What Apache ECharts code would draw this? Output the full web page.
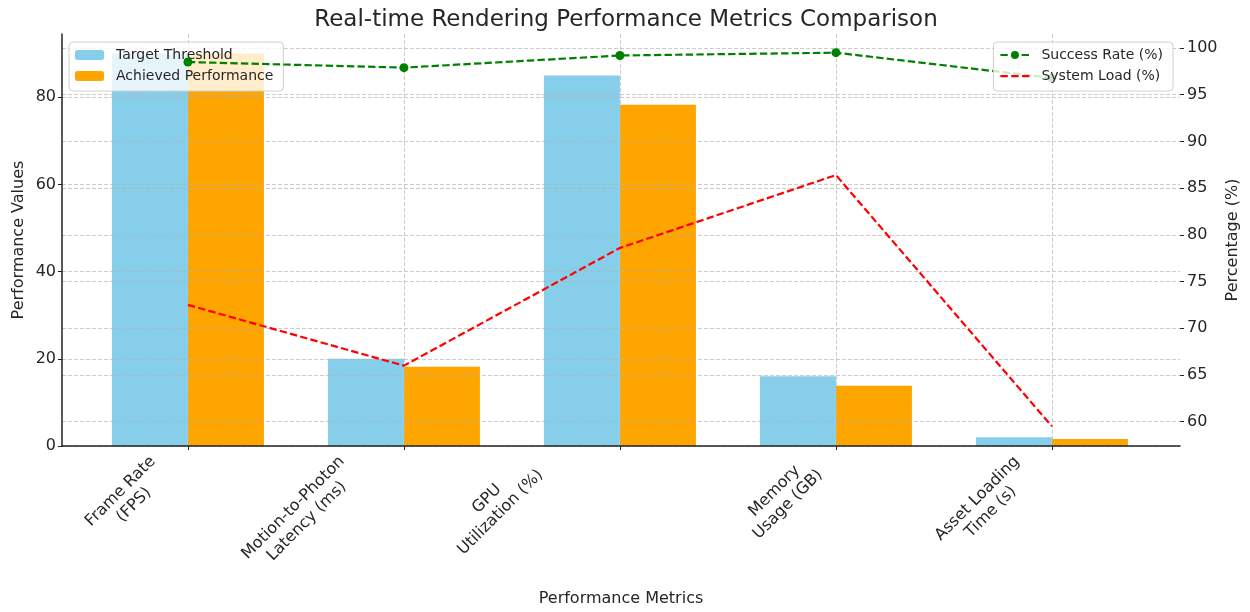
<!DOCTYPE html>
<html>
<head>
<meta charset="utf-8">
<script src="https://cdn.jsdelivr.net/npm/echarts@6/dist/echarts.min.js"></script>
<style>
  html, body { margin: 0; padding: 0; background: #ffffff; }
  #chart { width: 1250px; height: 612px; }
</style>
</head>
<body>
<div id="chart"></div>
<script>
// Categories and values
const metrics = [
  'Frame Rate\n(FPS)',
  'Motion-to-Photon\nLatency (ms)',
  'GPU\nUtilization (%)',
  'Memory\nUsage (GB)',
  'Asset Loading\nTime (s)'
];
const targetThreshold = [90, 20, 85, 16, 2];
const achievedPerformance = [90, 18.2, 78.3, 13.8, 1.6];
const successRate = [98.5, 97.9, 99.2, 99.5, 96.8];
const systemLoad = [72.5, 66.0, 78.6, 86.4, 59.5];

// Tick values
const categoryTicks = [0, 1, 2, 3, 4];
const leftTicks = [0, 20, 40, 60, 80];
const rightTicks = [60, 65, 70, 75, 80, 85, 90, 95, 100];

const FONT = 'DejaVu Sans';
const TEXT = '#262626';
const GRID = { color: 'rgba(176,176,176,0.65)', type: [4, 2], width: 1 };

const pairs = arr => arr.map((v, i) => [i, v]);

// Per-label spacing (px) used to slide each rotated category label sideways
const labelNudge = [11, 30, 52, 7, 11];
const labelRich = { c: { align: 'center', fontFamily: FONT, fontSize: 16, color: TEXT, lineHeight: 19 } };
labelNudge.forEach((p, i) => {
  labelRich['r' + i] = { width: p, align: 'right', fontSize: 16, lineHeight: 19 };
  labelRich['h' + i] = { height: 2 * p, lineHeight: 2 * p, fontSize: 1 };
});

// Dashed-line legend glyph (three dashes in a 29x10 box)
const dashIcon = 'path://M0,4h7.4v2.2h-7.4z M10.8,4h7.4v2.2h-7.4z M21.6,4h7.4v2.2h-7.4z M0,0h0.01v0.01h-0.01z M29,10h-0.01v-0.01h0.01z';

const chart = echarts.init(document.getElementById('chart'), null, { renderer: 'canvas' });

const legendBox = {
  orient: 'vertical',
  top: 42,
  zlevel: 1,
  itemWidth: 29,
  itemHeight: 10,
  itemGap: 7,
  padding: [6, 10, 8, 6],
  backgroundColor: 'rgba(255,255,255,0.8)',
  borderColor: '#d0d0d0',
  borderWidth: 1,
  borderRadius: 4,
  textStyle: { fontFamily: FONT, fontSize: 14, color: TEXT, padding: [0, 0, 0, 7] }
};

// Axes sit on the upper layer so their grid lines show over the bars
const axisLayer = { zlevel: 1, z: 3 };

chart.setOption({
  backgroundColor: '#ffffff',
  animation: false,
  textStyle: { fontFamily: FONT },
  title: {
    text: 'Real-time Rendering Performance Metrics Comparison',
    left: 621,
    textAlign: 'center',
    top: 4,
    textStyle: { fontFamily: FONT, fontSize: 23, fontWeight: 'normal', color: TEXT }
  },
  grid: { left: 62, right: 70, top: 34, bottom: 166, containLabel: false, outerBoundsMode: 'none' },
  legend: [
    Object.assign({}, legendBox, {
      z: 4,
      left: 69,
      data: ['Target Threshold', 'Achieved Performance']
    }),
    Object.assign({}, legendBox, {
      z: 8,
      right: 77,
      data: ['Success Rate (%)', { name: 'System Load (%)', icon: dashIcon }]
    })
  ],
  xAxis: Object.assign({
    type: 'value',
    min: -0.583,
    max: 4.593,
    name: 'Performance Metrics',
    nameLocation: 'middle',
    nameGap: 145,
    nameMoveOverlap: false,
    nameTextStyle: { fontFamily: FONT, fontSize: 16, color: TEXT },
    axisLine: { show: true, onZero: false, lineStyle: { color: '#222', width: 1.5 } },
    axisTick: { show: true, customValues: categoryTicks, length: 4, inside: false, lineStyle: { color: '#222' } },
    axisLabel: {
      customValues: categoryTicks,
      rotate: 45,
      margin: 7,
      padding: [0, 18, 0, 0],
      fontFamily: FONT,
      fontSize: 16,
      color: TEXT,
      formatter: v => metrics[v].split('\n').map(l => '{c|' + l + '}{r' + v + '| }').join('\n') + '\n{h' + v + '| }',
      rich: labelRich
    },
    splitLine: { show: true, lineStyle: GRID }
  }, axisLayer),
  yAxis: [
    Object.assign({
      type: 'value',
      min: 0,
      max: 94.5,
      position: 'left',
      name: 'Performance Values',
      nameLocation: 'middle',
      nameRotate: 90,
      nameGap: 35,
      nameMoveOverlap: false,
      nameTextStyle: { fontFamily: FONT, fontSize: 16, color: TEXT },
      axisLine: { show: true, onZero: false, lineStyle: { color: '#222', width: 1.5 } },
      axisTick: { show: true, customValues: leftTicks, length: 4, lineStyle: { color: '#222' } },
      axisLabel: { customValues: leftTicks, margin: 6, fontFamily: FONT, fontSize: 16, color: TEXT },
      splitLine: { show: true, lineStyle: GRID }
    }, axisLayer),
    Object.assign({
      type: 'value',
      min: 57.4,
      max: 101.5,
      position: 'right',
      name: 'Percentage (%)',
      nameLocation: 'middle',
      nameRotate: 90,
      nameGap: 45,
      nameMoveOverlap: false,
      nameTextStyle: { fontFamily: FONT, fontSize: 16, color: TEXT },
      axisLine: { show: false, onZero: false },
      axisTick: { show: true, customValues: rightTicks, length: 4, lineStyle: { color: '#222' } },
      axisLabel: { customValues: rightTicks, margin: 7, fontFamily: FONT, fontSize: 16, color: TEXT },
      splitLine: { show: true, lineStyle: GRID }
    }, axisLayer)
  ],
  series: [
    {
      name: 'Target Threshold',
      type: 'bar',
      xAxisIndex: 0,
      yAxisIndex: 0,
      data: pairs(targetThreshold),
      barWidth: 76,
      barGap: '0%',
      zlevel: 0,
      z: 2,
      itemStyle: { color: '#87CEEB' }
    },
    {
      name: 'Achieved Performance',
      type: 'bar',
      xAxisIndex: 0,
      yAxisIndex: 0,
      data: pairs(achievedPerformance),
      barWidth: 76,
      barGap: '0%',
      zlevel: 0,
      z: 2,
      itemStyle: { color: '#FFA500' }
    },
    {
      name: 'Success Rate (%)',
      type: 'line',
      xAxisIndex: 0,
      yAxisIndex: 1,
      data: pairs(successRate),
      zlevel: 1,
      z: 6,
      symbol: 'circle',
      symbolSize: 9,
      showSymbol: true,
      lineStyle: { color: '#008000', width: 2.2, type: [7.4, 3.2] },
      itemStyle: { color: '#008000' }
    },
    {
      name: 'System Load (%)',
      type: 'line',
      xAxisIndex: 0,
      yAxisIndex: 1,
      data: pairs(systemLoad),
      zlevel: 1,
      z: 6,
      symbol: 'none',
      lineStyle: { color: '#FF0000', width: 2.2, type: [7.4, 3.2] },
      itemStyle: { color: '#FF0000' }
    }
  ]
});
</script>
</body>
</html>
